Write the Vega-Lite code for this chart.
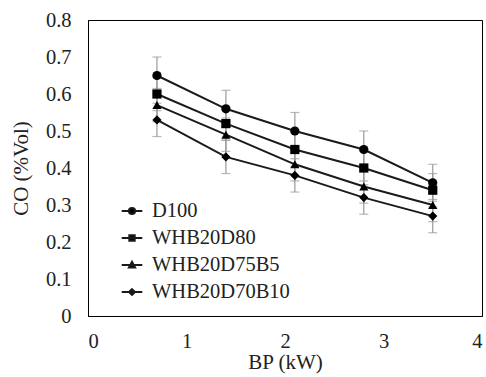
{
  "$schema": "https://vega.github.io/schema/vega-lite/v6.json",
  "width": 394,
  "height": 296,
  "autosize": {"type": "none"},
  "padding": {"left": 88, "top": 20, "right": 4, "bottom": 61},
  "config": {
    "view": {"stroke": "#000", "strokeWidth": 1},
    "font": "Liberation Serif",
    "axis": {"grid": false, "ticks": false, "domainColor": "#000", "labelFont": "Liberation Serif", "labelFontSize": 20.5, "labelColor": "#222", "titleFont": "Liberation Serif", "titleFontSize": 21, "titleFontWeight": "normal", "titleColor": "#222"},
    "legend": {"labelFont": "Liberation Serif", "labelFontSize": 20.5, "labelColor": "#222", "rowPadding": 5, "padding": 0, "labelOffset": 9, "symbolSize": 400}
  },
  "data": {"values": [
    {"series": "D100", "bp": 0.7, "co": 0.65, "lo": 0.60, "hi": 0.70},
    {"series": "D100", "bp": 1.4, "co": 0.56, "lo": 0.51, "hi": 0.61},
    {"series": "D100", "bp": 2.1, "co": 0.50, "lo": 0.45, "hi": 0.55},
    {"series": "D100", "bp": 2.8, "co": 0.45, "lo": 0.40, "hi": 0.50},
    {"series": "D100", "bp": 3.5, "co": 0.36, "lo": 0.31, "hi": 0.41},
    {"series": "WHB20D80", "bp": 0.7, "co": 0.60, "lo": 0.555, "hi": 0.645},
    {"series": "WHB20D80", "bp": 1.4, "co": 0.52, "lo": 0.475, "hi": 0.565},
    {"series": "WHB20D80", "bp": 2.1, "co": 0.45, "lo": 0.405, "hi": 0.495},
    {"series": "WHB20D80", "bp": 2.8, "co": 0.40, "lo": 0.355, "hi": 0.445},
    {"series": "WHB20D80", "bp": 3.5, "co": 0.34, "lo": 0.295, "hi": 0.385},
    {"series": "WHB20D75B5", "bp": 0.7, "co": 0.57, "lo": 0.525, "hi": 0.615},
    {"series": "WHB20D75B5", "bp": 1.4, "co": 0.49, "lo": 0.445, "hi": 0.535},
    {"series": "WHB20D75B5", "bp": 2.1, "co": 0.41, "lo": 0.365, "hi": 0.455},
    {"series": "WHB20D75B5", "bp": 2.8, "co": 0.35, "lo": 0.305, "hi": 0.395},
    {"series": "WHB20D75B5", "bp": 3.5, "co": 0.30, "lo": 0.255, "hi": 0.345},
    {"series": "WHB20D70B10", "bp": 0.7, "co": 0.53, "lo": 0.485, "hi": 0.575},
    {"series": "WHB20D70B10", "bp": 1.4, "co": 0.43, "lo": 0.385, "hi": 0.475},
    {"series": "WHB20D70B10", "bp": 2.1, "co": 0.38, "lo": 0.335, "hi": 0.425},
    {"series": "WHB20D70B10", "bp": 2.8, "co": 0.32, "lo": 0.275, "hi": 0.365},
    {"series": "WHB20D70B10", "bp": 3.5, "co": 0.27, "lo": 0.225, "hi": 0.315}
  ]},
  "encoding": {
    "x": {"field": "bp", "type": "quantitative", "scale": {"domain": [0, 4], "nice": false}, "axis": {"values": [0, 1, 2, 3, 4], "title": "BP (kW)", "labelPadding": 15, "titlePadding": 0}},
    "y": {"field": "co", "type": "quantitative", "scale": {"domain": [0, 0.8], "nice": false}, "axis": {"values": [0, 0.1, 0.2, 0.3, 0.4, 0.5, 0.6, 0.7, 0.8], "format": "~g", "title": "CO (%Vol)", "labelPadding": 17, "titlePadding": 14}}
  },
  "resolve": {"scale": {"shape": "independent"}},
  "layer": [
    {"mark": {"type": "rule", "color": "#9a9a9a", "strokeWidth": 1.2}, "encoding": {"y": {"field": "lo", "type": "quantitative"}, "y2": {"field": "hi"}}},
    {"mark": {"type": "tick", "color": "#9a9a9a", "size": 9, "thickness": 1.2, "orient": "horizontal"}, "encoding": {"y": {"field": "lo", "type": "quantitative"}}},
    {"mark": {"type": "tick", "color": "#9a9a9a", "size": 9, "thickness": 1.2, "orient": "horizontal"}, "encoding": {"y": {"field": "hi", "type": "quantitative"}}},
    {"mark": {"type": "line", "color": "#1a1a1a", "strokeWidth": 2}, "encoding": {"detail": {"field": "series"}}},
    {"mark": {"type": "point", "filled": true, "color": "#000", "opacity": 1}, "encoding": {
      "size": {"value": 85},
      "shape": {"field": "series", "type": "nominal",
        "scale": {"domain": ["D100", "WHB20D80", "WHB20D75B5", "WHB20D70B10"], "range": ["circle", "square", "triangle-up", "diamond"]},
        "legend": null}
    }},
    {"mark": {"type": "point", "filled": false, "fill": "#000", "stroke": "#1a1a1a", "strokeWidth": 2, "opacity": 0}, "encoding": {
      "shape": {"field": "series", "type": "nominal",
        "scale": {"domain": ["D100", "WHB20D80", "WHB20D75B5", "WHB20D70B10"], "range": [
          "M-1.03,0L-0.31,0A0.31,0.31 0 1,1 0.31,0L1.03,0M0.31,0A0.31,0.31 0 1,1 -0.31,0",
          "M-1.03,0L1.03,0M-0.27,-0.27L0.27,-0.27L0.27,0.27L-0.27,0.27Z",
          "M-1.03,0L1.03,0M0,-0.32L0.31,0.24L-0.31,0.24Z",
          "M-1.03,0L1.03,0M0,-0.28L0.3,0L0,0.28L-0.3,0Z"]},
        "legend": {"title": null, "orient": "none", "legendX": 33, "legendY": 180, "padding": 0, "symbolSize": 400, "rowPadding": 5, "labelOffset": 9, "labelFontSize": 20.5, "symbolOpacity": 1, "symbolStrokeWidth": 2}}
    }}
  ]
}
